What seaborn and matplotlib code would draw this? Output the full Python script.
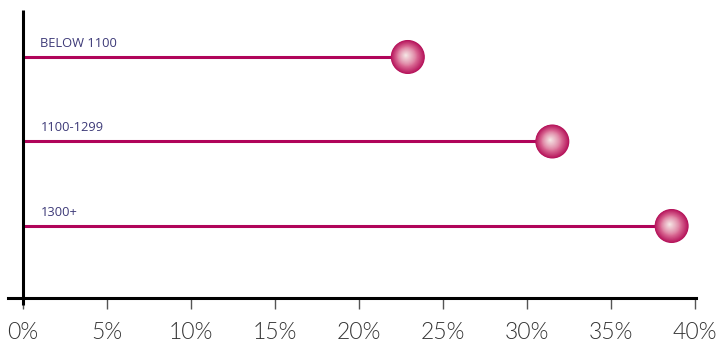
import numpy as np
import pandas as pd
import matplotlib
matplotlib.use("Agg")
import matplotlib.pyplot as plt
import matplotlib.transforms as mtransforms
from matplotlib.colors import to_rgb
import seaborn as sns

categories = ["BELOW 1100", "1100-1299", "1300+"]
values = [22.9, 31.5, 38.6]
tick_values = [0, 5, 10, 15, 20, 25, 30, 35, 40]
tick_labels = ["0%", "5%", "10%", "15%", "20%", "25%", "30%", "35%", "40%"]

df = pd.DataFrame({"category": categories, "value": values, "pos": range(len(categories))})

sns.set_style("white")
plt.rcParams["font.family"] = ["Open Sans", "DejaVu Sans"]

fig = plt.figure(figsize=(7.17, 3.43), dpi=100)
ax = fig.add_axes([8/717, 45/343, 688/717, 288/343])

line_color = "#b0045a"
label_color = "#3d3a78"

# lines
ax.hlines(df["pos"], 0, df["value"], color=line_color, lw=2.2, zorder=2)

# spheres with radial gradient
edge = np.array(to_rgb("#b5125a"))
mid = np.array(to_rgb("#da6c95"))
center = np.array(to_rgb("#f6e8e6"))
base_s = 600
N = 32
sns.scatterplot(data=df, x="value", y="pos", s=base_s, color=edge, edgecolor="none",
                ax=ax, zorder=3, legend=False, clip_on=False)
for i in range(1, N):
    r = 1 - i / N  # relative radius
    if r > 0.6:
        c = edge + (mid - edge) * ((1 - r) / 0.4)
    else:
        c = mid + (center - mid) * ((0.6 - r) / 0.6) ** 0.8
    off = mtransforms.offset_copy(ax.transData, fig=fig, x=-1.5 * (1 - r), y=1.2 * (1 - r), units="points")
    ax.scatter(df["value"], df["pos"], s=base_s * r ** 2 + 1, color=c, edgecolor="none",
               zorder=3 + i * 0.01, transform=off, clip_on=False)

# category labels
for _, row in df.iterrows():
    ax.annotate(row["category"], xy=(0, row["pos"]), xytext=(12.5, 7.5), textcoords="offset points",
                fontsize=9.3, color=label_color, ha="left", va="baseline",
                family=["Open Sans", "DejaVu Sans"])

ax.set_xlim(-15/16.8, 40.05)
ax.set_ylim(2.852, -0.556)

# vertical axis line
ax.plot([0, 0], [-0.556, 2.935], color="black", lw=2.2, clip_on=False, zorder=4, solid_capstyle="butt")

for s in ["top", "right", "left"]:
    ax.spines[s].set_visible(False)
ax.spines["bottom"].set_linewidth(2.2)
ax.spines["bottom"].set_color("black")

ax.set_yticks([])
ax.set_xticks(tick_values)
ax.set_xticklabels(tick_labels, fontsize=16.5, color="#333333", family=["Lato", "DejaVu Sans"],
                   fontweight=300)
ax.tick_params(axis="x", direction="out", length=8, width=1, color="#555555", bottom=True, pad=9)
ax.set_xlabel("")
ax.set_ylabel("")

fig.savefig("out.png", dpi=100)
